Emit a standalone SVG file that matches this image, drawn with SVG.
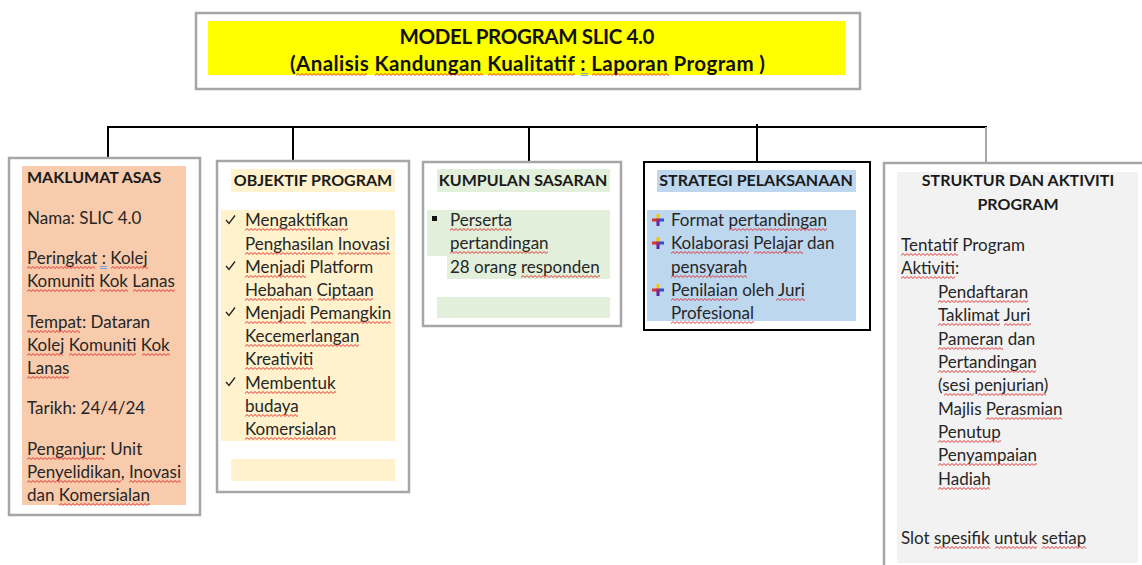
<svg xmlns="http://www.w3.org/2000/svg" width="1142" height="565" viewBox="0 0 1142 565">
<defs>
<pattern id="w" width="4" height="3" patternUnits="userSpaceOnUse">
<path d="M-1 1.5L0 2.5L2 0.5L4 2.5L5 1.5" fill="none" stroke="#e01b1b" stroke-width="0.9"/>
</pattern>
<g id="plus">
<rect x="-1.5" y="-6" width="3" height="5" fill="#f5c400"/>
<rect x="-6" y="-1.5" width="5" height="3" fill="#e03030"/>
<rect x="1" y="-1.5" width="5" height="3" fill="#3050d0"/>
<rect x="-1.5" y="1" width="3" height="5" fill="#6020a0"/>
<rect x="-1.5" y="-1.5" width="3" height="3" fill="#903080"/>
</g>
</defs>
<style>
.t{font-family:Lato,"Liberation Sans",sans-serif;font-size:17px;fill:#262626}
.b{font-family:Lato,"Liberation Sans",sans-serif;font-size:16px;font-weight:bold;fill:#1a1a1a}
.h{font-family:Lato,"Liberation Sans",sans-serif;font-size:20.5px;font-weight:bold;fill:#111}
.box{fill:#fff;stroke:#a6a6a6;stroke-width:2.5}
.con{stroke:#000;stroke-width:2;fill:none}
.w{fill:url(#w)}
.gr{stroke:#5b8fd6;stroke-width:0.8;fill:none}
</style>
<rect width="1142" height="565" fill="#fff"/>
<g id="title">
<rect class="box" x="196" y="13" width="664" height="76"/>
<rect x="208" y="21" width="637" height="54" fill="#ffff00"/>
<text class="h" x="527" y="44" text-anchor="middle" textLength="255">MODEL PROGRAM SLIC 4.0</text>
<text class="h" x="290" y="71" textLength="475">(Analisis Kandungan Kualitatif : Laporan Program )</text>
<rect class="w" transform="translate(296,73)" width="71" height="3"/>
<rect class="w" transform="translate(375,73)" width="108" height="3"/>
<rect class="w" transform="translate(488,73)" width="87" height="3"/>
<rect class="w" transform="translate(592,73)" width="77" height="3"/>
<path class="gr" d="M581 73.5h7M581 75.5h7"/>
</g>
<g id="connectors">
<path class="con" d="M107 127H987M108 127V158M293 127V161M529 127V162M757 124V161"/>
<path d="M986 127V163" stroke="#a6a6a6" stroke-width="2"/>
</g>
<g id="maklumat">
<rect class="box" x="9" y="158" width="191" height="357"/>
<rect x="22" y="166" width="164" height="339" fill="#f8cbad"/>
<text class="b" x="27" y="183">MAKLUMAT ASAS</text>
<text class="t" x="27" y="224">Nama: SLIC 4.0</text>
<text class="t" x="27" y="264">Peringkat : Kolej</text>
<text class="t" x="27" y="287">Komuniti Kok Lanas</text>
<text class="t" x="27" y="328">Tempat: Dataran</text>
<text class="t" x="27" y="351">Kolej Komuniti Kok</text>
<text class="t" x="27" y="374">Lanas</text>
<text class="t" x="27" y="414">Tarikh: 24/4/24</text>
<text class="t" x="27" y="455">Penganjur: Unit</text>
<text class="t" x="27" y="478">Penyelidikan, Inovasi</text>
<text class="t" x="27" y="501">dan Komersialan</text>
<rect class="w" transform="translate(27,266)" width="68" height="3"/>
<path class="gr" d="M100 266.5h7M100 268.5h7"/>
<rect class="w" transform="translate(111,266)" width="37" height="3"/>
<rect class="w" transform="translate(27,289)" width="68" height="3"/>
<rect class="w" transform="translate(100,289)" width="28" height="3"/>
<rect class="w" transform="translate(133,289)" width="42" height="3"/>
<rect class="w" transform="translate(27,330)" width="53" height="3"/>
<rect class="w" transform="translate(27,353)" width="36" height="3"/>
<rect class="w" transform="translate(69,353)" width="67" height="3"/>
<rect class="w" transform="translate(142,353)" width="28" height="3"/>
<rect class="w" transform="translate(27,376)" width="42" height="3"/>
<rect class="w" transform="translate(27,457)" width="77" height="3"/>
<rect class="w" transform="translate(27,480)" width="94" height="3"/>
<rect class="w" transform="translate(129,480)" width="52" height="3"/>
<rect class="w" transform="translate(59,503)" width="91" height="3"/>
</g>
<g id="objektif">
<rect class="box" x="217" y="161" width="192" height="331"/>
<rect x="231" y="169" width="164" height="23" fill="#fff2cc"/>
<rect x="221" y="210" width="174" height="231" fill="#fff2cc"/>
<rect x="231" y="459" width="164" height="22" fill="#fff2cc"/>
<text class="b" x="313" y="186" text-anchor="middle">OBJEKTIF PROGRAM</text>
<g fill="none" stroke="#222" stroke-width="1.3">
<path d="M226 220l3 3.5 6-8"/><path d="M226 266l3 3.5 6-8"/><path d="M226 312l3 3.5 6-8"/><path d="M226 382l3 3.5 6-8"/>
</g>
<text class="t" x="245" y="226">Mengaktifkan</text>
<text class="t" x="245" y="250">Penghasilan Inovasi</text>
<text class="t" x="245" y="273">Menjadi Platform</text>
<text class="t" x="245" y="296">Hebahan Ciptaan</text>
<text class="t" x="245" y="319">Menjadi Pemangkin</text>
<text class="t" x="245" y="342">Kecemerlangan</text>
<text class="t" x="245" y="365">Kreativiti</text>
<text class="t" x="245" y="389">Membentuk</text>
<text class="t" x="245" y="412">budaya</text>
<text class="t" x="245" y="435">Komersialan</text>
<rect class="w" transform="translate(245,228)" width="103" height="3"/>
<rect class="w" transform="translate(245,252)" width="88" height="3"/>
<rect class="w" transform="translate(338,252)" width="52" height="3"/>
<rect class="w" transform="translate(245,275)" width="61" height="3"/>
<rect class="w" transform="translate(245,298)" width="68" height="3"/>
<rect class="w" transform="translate(318,298)" width="55" height="3"/>
<rect class="w" transform="translate(245,321)" width="61" height="3"/>
<rect class="w" transform="translate(311,321)" width="80" height="3"/>
<rect class="w" transform="translate(245,344)" width="114" height="3"/>
<rect class="w" transform="translate(245,367)" width="68" height="3"/>
<rect class="w" transform="translate(245,391)" width="91" height="3"/>
<rect class="w" transform="translate(245,414)" width="53" height="3"/>
<rect class="w" transform="translate(245,437)" width="91" height="3"/>
</g>
<g id="kumpulan">
<rect class="box" x="423" y="162" width="198" height="164"/>
<rect x="437" y="169" width="173" height="23" fill="#e2efda"/>
<rect x="427" y="210" width="183" height="46" fill="#e2efda"/>
<rect x="447" y="256" width="163" height="23" fill="#e2efda"/>
<rect x="437" y="297" width="173" height="21" fill="#e2efda"/>
<text class="b" x="523" y="186" text-anchor="middle">KUMPULAN SASARAN</text>
<rect x="432" y="216" width="5" height="5" fill="#111"/>
<text class="t" x="450" y="226">Perserta</text>
<text class="t" x="450" y="249">pertandingan</text>
<text class="t" x="450" y="273">28 orang responden</text>
<rect class="w" transform="translate(450,228)" width="62" height="3"/>
<rect class="w" transform="translate(450,251)" width="98" height="3"/>
<rect class="w" transform="translate(521,275)" width="79" height="3"/>
</g>
<g id="strategi">
<rect x="644" y="162" width="226" height="168" fill="#fff" stroke="#000" stroke-width="2"/>
<rect x="657" y="170" width="199" height="22" fill="#bdd7ee"/>
<rect x="647" y="210" width="209" height="111" fill="#bdd7ee"/>
<text class="b" x="756" y="186" text-anchor="middle">STRATEGI PELAKSANAAN</text>
<use href="#plus" x="658" y="220"/>
<use href="#plus" x="658" y="243"/>
<use href="#plus" x="658" y="290"/>
<text class="t" x="671" y="226">Format pertandingan</text>
<text class="t" x="671" y="249">Kolaborasi Pelajar dan</text>
<text class="t" x="671" y="273">pensyarah</text>
<text class="t" x="671" y="296">Penilaian oleh Juri</text>
<text class="t" x="671" y="319">Profesional</text>
<rect class="w" transform="translate(729,228)" width="98" height="3"/>
<rect class="w" transform="translate(671,251)" width="78" height="3"/>
<rect class="w" transform="translate(754,251)" width="49" height="3"/>
<rect class="w" transform="translate(671,275)" width="76" height="3"/>
<rect class="w" transform="translate(671,298)" width="67" height="3"/>
<rect class="w" transform="translate(776,298)" width="29" height="3"/>
<rect class="w" transform="translate(671,321)" width="83" height="3"/>
</g>
<g id="struktur">
<rect x="884" y="163" width="270" height="420" fill="#fff" stroke="#a6a6a6" stroke-width="2.5"/>
<rect x="897" y="172" width="241" height="391" fill="#f2f2f2"/>
<text class="b" x="1018" y="186" text-anchor="middle">STRUKTUR DAN AKTIVITI</text>
<text class="b" x="1018" y="210" text-anchor="middle">PROGRAM</text>
<text class="t" x="901" y="251">Tentatif Program</text>
<text class="t" x="901" y="274">Aktiviti:</text>
<text class="t" x="938" y="298">Pendaftaran</text>
<text class="t" x="938" y="321">Taklimat Juri</text>
<text class="t" x="938" y="345">Pameran dan</text>
<text class="t" x="938" y="368">Pertandingan</text>
<text class="t" x="938" y="391">(sesi penjurian)</text>
<text class="t" x="938" y="415">Majlis Perasmian</text>
<text class="t" x="938" y="438">Penutup</text>
<text class="t" x="938" y="461">Penyampaian</text>
<text class="t" x="938" y="485">Hadiah</text>
<text class="t" x="901" y="544">Slot spesifik untuk setiap</text>
<rect class="w" transform="translate(901,253)" width="57" height="3"/>
<rect class="w" transform="translate(901,276)" width="54" height="3"/>
<rect class="w" transform="translate(938,300)" width="90" height="3"/>
<rect class="w" transform="translate(938,323)" width="62" height="3"/>
<rect class="w" transform="translate(1004,323)" width="27" height="3"/>
<rect class="w" transform="translate(938,347)" width="65" height="3"/>
<rect class="w" transform="translate(938,370)" width="98" height="3"/>
<rect class="w" transform="translate(944,393)" width="30" height="3"/>
<rect class="w" transform="translate(978,393)" width="68" height="3"/>
<rect class="w" transform="translate(986,417)" width="76" height="3"/>
<rect class="w" transform="translate(938,440)" width="63" height="3"/>
<rect class="w" transform="translate(938,463)" width="99" height="3"/>
<rect class="w" transform="translate(938,487)" width="52" height="3"/>
<rect class="w" transform="translate(934,546)" width="56" height="3"/>
<rect class="w" transform="translate(995,546)" width="42" height="3"/>
<rect class="w" transform="translate(1042,546)" width="44" height="3"/>
</g>
</svg>
